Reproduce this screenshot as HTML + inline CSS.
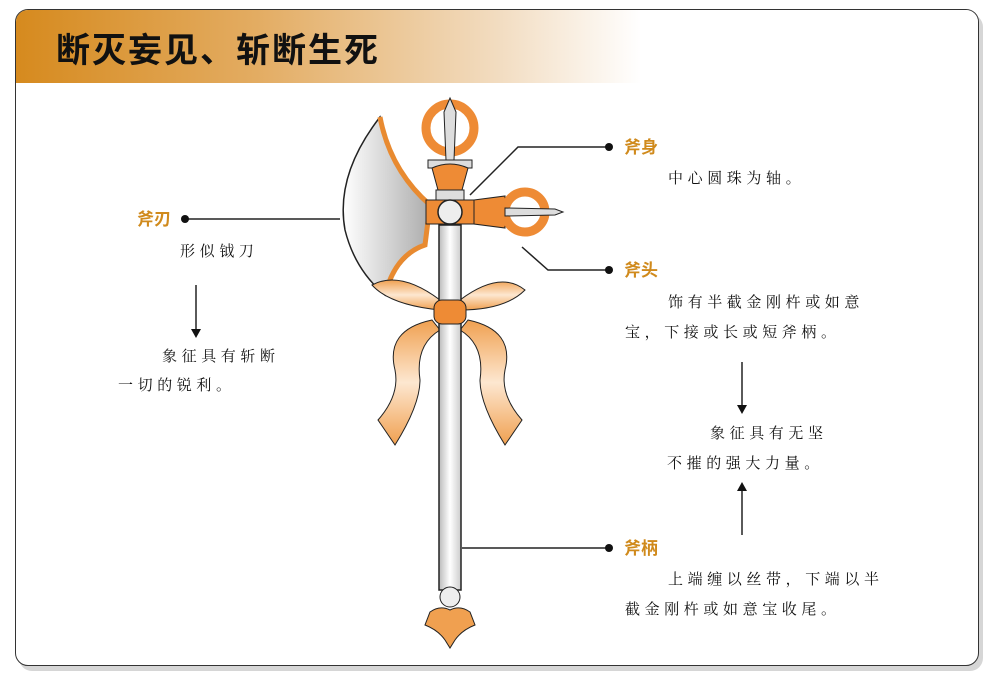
<!DOCTYPE html>
<html><head><meta charset="utf-8"><style>
body{margin:0;width:999px;height:679px;background:#fff;position:relative;overflow:hidden;font-family:"Liberation Serif","Noto Serif CJK SC",serif;}
.card{position:absolute;left:15px;top:9px;width:962px;height:655px;border:1.5px solid #333;border-radius:13px;box-shadow:4px 5px 0 #d6d6d6;overflow:hidden;background:#fff}
.hd{position:absolute;left:0;top:0;width:100%;height:73px;background:linear-gradient(90deg,#d68a1e 0%,#e3ac62 25%,#f2dcc0 50%,#fff 65%)}
.hd span{position:absolute;left:40px;top:13px;font:bold 34px "Liberation Sans","Noto Sans CJK SC",sans-serif;color:#111;letter-spacing:2px}
.t{position:absolute;font-size:15px;letter-spacing:4.6px;color:#111;white-space:nowrap;line-height:1}
.l{position:absolute;font:bold 17px "Liberation Sans","Noto Sans CJK SC",sans-serif;color:#d08a1c;line-height:1}
svg{position:absolute;left:0;top:0}
</style></head><body>
<div class="card"><div class="hd"><span>断灭妄见、斩断生死</span></div></div>
<svg width="999" height="679">
<defs>
<linearGradient id="sh" x1="0" x2="1"><stop offset="0" stop-color="#bbb"/><stop offset=".5" stop-color="#fff"/><stop offset="1" stop-color="#ccc"/></linearGradient>
<linearGradient id="bl" x1="0" x2="1"><stop offset="0" stop-color="#fff"/><stop offset="1" stop-color="#aaa"/></linearGradient>
<linearGradient id="rb" x1="0" y1="0" x2="0" y2="1"><stop offset="0" stop-color="#f0a050"/><stop offset=".5" stop-color="#fde7d0"/><stop offset="1" stop-color="#f0a050"/></linearGradient>
</defs>
<g stroke="#222" stroke-width="1.5" fill="none">
<line x1="185" y1="219" x2="340" y2="219"/>
<line x1="196" y1="285" x2="196" y2="333"/>
<polyline points="609,147 518,147 470,195"/>
<polyline points="609,270 548,270 522,247"/>
<line x1="609" y1="548" x2="462" y2="548"/>
<line x1="742" y1="362" x2="742" y2="410"/>
<line x1="742" y1="535" x2="742" y2="487"/>
</g>
<g fill="#111">
<circle cx="185" cy="219" r="4"/><circle cx="609" cy="147" r="4"/><circle cx="609" cy="270" r="4"/><circle cx="609" cy="548" r="4"/>
<polygon points="191,329 201,329 196,338"/>
<polygon points="737,405 747,405 742,414"/>
<polygon points="737,491 747,491 742,482"/>
</g>
<path d="M380,117 Q335,175 345,230 Q355,270 385,295 Q395,260 425,245 L432,205 Q395,180 380,117Z" fill="url(#bl)" stroke="#222" stroke-width="1.5"/>
<path d="M380,117 Q390,170 430,205 L425,245 Q395,255 385,295" fill="none" stroke="#e88a30" stroke-width="5"/>
<path d="M440,300 Q400,270 372,285 Q390,305 440,310Z M460,300 Q500,270 525,290 Q505,310 460,310Z" fill="url(#rb)" stroke="#222"/>
<path d="M432,320 Q385,330 395,370 Q400,395 378,420 L395,445 Q420,405 420,380 Q415,345 440,330Z" fill="url(#rb)" stroke="#222"/>
<path d="M468,320 Q515,330 505,370 Q500,395 522,420 L505,445 Q480,405 480,380 Q485,345 460,330Z" fill="url(#rb)" stroke="#222"/>
<rect x="439" y="225" width="22" height="365" fill="url(#sh)" stroke="#222" stroke-width="1.5"/>
<rect x="434" y="300" width="32" height="24" rx="8" fill="#ee8b35" stroke="#222"/>
<circle cx="450" cy="128" r="24" fill="none" stroke="#ee8b35" stroke-width="9"/>
<path d="M450,98 L456,112 L454,160 L446,160 L444,112Z" fill="#ddd" stroke="#222"/>
<rect x="428" y="160" width="44" height="8" fill="#ddd" stroke="#222"/>
<path d="M432,168 Q450,160 468,168 L462,190 L438,190Z" fill="#ee8b35" stroke="#222"/>
<rect x="436" y="190" width="28" height="10" fill="#ddd" stroke="#222"/>
<rect x="426" y="200" width="48" height="24" fill="#ee8b35" stroke="#222"/>
<circle cx="450" cy="212" r="12" fill="#eee" stroke="#222" stroke-width="1.5"/>
<path d="M474,200 L505,196 L505,228 L474,224Z" fill="#ee8b35" stroke="#222"/>
<circle cx="525" cy="212" r="20" fill="none" stroke="#ee8b35" stroke-width="9"/>
<path d="M505,208 L555,209 L563,212 L555,215 L505,216Z" fill="#ddd" stroke="#222"/>
<circle cx="450" cy="597" r="10" fill="#eee" stroke="#222"/>
<path d="M430,612 Q440,605 450,610 Q460,605 470,612 L475,625 Q462,630 455,640 L450,648 L445,640 Q438,630 425,625Z" fill="#f0a050" stroke="#222"/>
</svg>
<div class="l" style="left:137px;top:211px">斧刃</div>
<div class="t" style="left:180px;top:245px">形似钺刀</div>
<div class="t" style="left:162px;top:350px">象征具有斩断</div>
<div class="t" style="left:118px;top:379px">一切的锐利。</div>
<div class="l" style="left:624px;top:139px">斧身</div>
<div class="t" style="left:668px;top:172px">中心圆珠为轴。</div>
<div class="l" style="left:624px;top:262px">斧头</div>
<div class="t" style="left:668px;top:296px">饰有半截金刚杵或如意</div>
<div class="t" style="left:625px;top:326px">宝，下接或长或短斧柄。</div>
<div class="t" style="left:710px;top:427px">象征具有无坚</div>
<div class="t" style="left:667px;top:457px">不摧的强大力量。</div>
<div class="l" style="left:624px;top:540px">斧柄</div>
<div class="t" style="left:668px;top:573px">上端缠以丝带，下端以半</div>
<div class="t" style="left:625px;top:603px">截金刚杵或如意宝收尾。</div>
</body></html>
